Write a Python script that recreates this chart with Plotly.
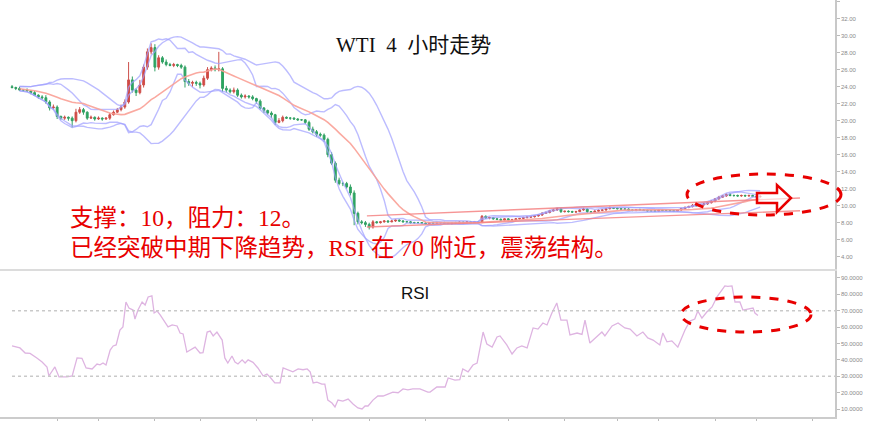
import plotly.graph_objects as go
import pandas as pd

# ---------------- data ----------------
closes = [
    23.9, 23.8, 23.6, 23.6, 23.5, 23.3, 23.0, 22.8, 22.7, 22.2,
    21.5, 21.6, 20.5, 20.3, 20.4, 20.3, 20.0, 21.0, 21.3, 21.0,
    20.3, 20.4, 20.2, 20.3, 20.2, 20.3, 20.7, 21.0, 21.3, 21.6,
    22.2, 24.8, 23.6, 23.3, 24.2, 26.3, 28.1, 28.6, 26.3, 27.4,
    26.9, 26.6, 26.5, 26.6, 26.5, 26.3, 24.6, 24.4, 24.5, 24.4,
    24.2, 25.0, 26.0, 26.2, 26.0, 26.1, 23.8, 23.6, 23.4, 23.6,
    23.0, 22.8, 22.9, 22.8, 22.6, 22.3, 21.5, 21.2, 20.9, 20.7,
    19.8, 20.0, 20.4, 20.3, 20.3, 20.2, 20.1, 20.1, 19.8, 19.0,
    18.7, 18.4, 18.3, 17.8, 16.0, 15.0, 13.0, 12.6, 12.6, 12.2,
    11.5, 9.1, 8.1, 8.0, 7.8, 7.5, 8.1, 8.0, 8.1, 8.2,
    8.1, 8.2, 8.3, 8.2, 8.1, 8.1, 8.0, 8.0, 8.0, 7.95,
    7.9, 8.0, 7.95, 8.0, 8.0, 7.95, 7.9, 8.0, 7.95, 8.05,
    8.0, 8.1, 8.0, 8.1, 8.05, 8.75, 8.55, 8.6, 8.45, 8.4,
    8.3, 8.45, 8.3, 8.35, 8.45, 8.5, 8.6, 8.65, 8.7, 8.8,
    8.9, 9.1, 9.2, 9.4, 9.5, 9.65, 9.3, 9.35, 9.3, 9.25,
    9.3, 9.5, 9.6, 9.3, 9.25, 9.35, 9.45, 9.5, 9.65, 9.75,
    9.7, 9.65, 9.6, 9.6, 9.5, 9.45, 9.55, 9.5, 9.45, 9.4,
    9.4, 9.35, 9.5, 9.45, 9.45, 9.4, 9.35, 9.5, 9.65, 9.8,
    9.9, 10.05, 10.0, 10.1, 10.2, 10.35, 10.55, 10.8, 11.0, 11.15,
    11.3, 11.2, 11.2, 11.15, 11.2, 11.15, 11.2, 11.1, 11.05, 11.1,
]
first_open = 24.0

upper_wick = [
    0.2, 0.1, 0.2, 0.1, 0.2, 0.1, 0.2, 0.1, 0.2, 0.3,
    0.2, 0.3, 0.2, 0.1, 0.2, 0.1, 0.2, 0.4, 0.3, 0.2,
    0.1, 0.2, 0.1, 0.2, 0.1, 0.1, 0.2, 0.2, 0.2, 0.3,
    0.3, 2.1, 0.4, 0.2, 0.6, 0.3, 0.4, 0.5, 0.4, 0.3,
    0.2, 0.3, 0.2, 0.2, 0.1, 0.2, 0.2, 0.3, 0.2, 0.2,
    0.2, 0.3, 0.3, 0.2, 0.3, 2.0, 0.2, 0.3, 0.2, 0.3,
    0.2, 0.2, 0.2, 0.1, 0.2, 0.1, 0.2, 0.1, 0.1, 0.2,
    0.1, 0.3, 0.2, 0.1, 0.1, 0.1, 0.1, 0.1, 0.1, 0.2,
    0.3, 0.2, 0.2, 0.2, 0.2, 0.3, 0.2, 0.3, 0.2, 0.2,
    0.3, 0.3, 0.2, 0.2, 0.2, 0.2, 0.2, 0.1, 0.1, 0.1,
    0.1, 0.1, 0.05, 0.1, 0.1, 0.05, 0.1, 0.1, 0.1, 0.05,
    0.1, 0.05, 0.1, 0.1, 0.05, 0.1, 0.1, 0.05, 0.1, 0.1,
    0.1, 0.05, 0.1, 0.1, 0.1, 0.15, 0.1, 0.1, 0.05, 0.1,
    0.1, 0.05, 0.1, 0.1, 0.1, 0.05, 0.1, 0.1, 0.1, 0.1,
    0.1, 0.15, 0.1, 0.1, 0.15, 0.1, 0.1, 0.05, 0.1, 0.1,
    0.1, 0.1, 0.15, 0.1, 0.05, 0.1, 0.1, 0.1, 0.1, 0.15,
    0.1, 0.1, 0.05, 0.1, 0.1, 0.1, 0.05, 0.1, 0.1, 0.1,
    0.05, 0.1, 0.1, 0.1, 0.1, 0.05, 0.1, 0.1, 0.1, 0.1,
    0.1, 0.15, 0.1, 0.1, 0.15, 0.1, 0.1, 0.1, 0.15, 0.1,
    0.15, 0.2, 0.1, 0.1, 0.1, 0.1, 0.1, 0.1, 0.1, 0.1,
]
lower_wick = [
    0.1, 0.2, 0.1, 0.2, 0.1, 0.2, 0.1, 0.2, 0.2, 0.2,
    0.3, 0.2, 0.3, 0.2, 0.2, 0.3, 0.8, 0.2, 0.2, 0.3,
    0.2, 0.1, 0.2, 0.1, 0.2, 0.1, 0.2, 0.1, 0.1, 0.2,
    0.2, 0.2, 0.3, 0.4, 0.2, 0.3, 0.3, 0.3, 0.5, 0.3,
    0.2, 0.2, 0.1, 0.2, 0.2, 0.2, 0.7, 0.3, 0.4, 0.3,
    0.4, 0.2, 0.2, 0.2, 0.2, 0.2, 0.4, 0.3, 0.2, 0.2,
    0.2, 0.2, 0.2, 0.2, 0.2, 0.3, 0.2, 0.3, 0.2, 0.4,
    0.3, 0.1, 0.2, 0.1, 0.2, 0.1, 0.1, 0.1, 0.2, 0.2,
    0.2, 0.3, 0.2, 0.3, 0.3, 0.2, 0.3, 0.2, 0.3, 0.2,
    0.3, 1.4, 0.3, 0.2, 0.3, 0.3, 0.2, 0.1, 0.1, 0.1,
    0.1, 0.05, 0.1, 0.1, 0.05, 0.1, 0.1, 0.1, 0.05, 0.1,
    0.1, 0.1, 0.05, 0.1, 0.1, 0.1, 0.05, 0.1, 0.1, 0.05,
    0.1, 0.1, 0.1, 0.05, 0.1, 0.1, 0.1, 0.15, 0.1, 0.1,
    0.05, 0.1, 0.1, 0.1, 0.05, 0.1, 0.1, 0.1, 0.05, 0.1,
    0.1, 0.1, 0.05, 0.1, 0.1, 0.1, 0.15, 0.1, 0.1, 0.1,
    0.1, 0.05, 0.1, 0.15, 0.1, 0.1, 0.05, 0.1, 0.1, 0.1,
    0.1, 0.1, 0.1, 0.05, 0.1, 0.1, 0.1, 0.1, 0.05, 0.1,
    0.1, 0.05, 0.1, 0.1, 0.1, 0.1, 0.1, 0.05, 0.1, 0.1,
    0.1, 0.1, 0.1, 0.1, 0.1, 0.1, 0.1, 0.15, 0.1, 0.1,
    0.1, 0.1, 0.15, 0.1, 0.1, 0.1, 0.1, 0.1, 0.1, 0.1,
]

rsi_pos = [
    0.0, 2.1, 3.5, 4.8, 6.6, 8.0, 9.3, 9.8, 11.4, 12.5, 14.6, 16.0, 17.3, 18.6,
    19.7, 21.3, 22.6, 23.4, 24.2, 25.0, 26.1, 26.9, 27.7, 28.7, 29.5, 30.3,
    31.1, 32.2, 32.7, 33.5, 34.6, 35.4, 36.2, 37.2, 37.8, 38.6, 39.4, 40.7,
    41.5, 42.6, 43.9, 44.7, 45.5, 46.5, 47.9, 48.7, 50.0, 50.8, 51.9, 52.7,
    53.5, 54.5, 55.9, 56.6, 57.4, 58.5, 59.3, 60.1, 61.2, 62.0, 62.8, 64.1,
    65.4, 66.8, 67.8, 68.6, 69.9, 71.3, 72.1, 73.4, 74.7, 76.1, 77.4, 78.5,
    79.3, 80.1, 81.1, 82.4, 83.2, 84.0, 85.1, 85.9, 86.7, 88.0, 89.4, 90.7,
    92.0, 93.1, 93.9, 94.7, 96.0, 97.3, 98.7, 100.0, 101.3, 102.7, 104.0,
    105.3, 106.6, 108.5, 110.6, 111.2, 113.0, 115.2, 116.0, 117.8, 119.1,
    119.9, 121.3, 122.6, 123.7, 125.3, 126.3, 127.7, 129.0, 129.8, 131.6,
    133.0, 134.3, 135.6, 137.0, 138.6, 139.9, 141.2, 142.3, 143.6, 144.9,
    146.0, 147.6, 148.4, 150.3, 151.6, 152.4, 153.7, 155.6, 156.9, 157.7,
    159.6, 161.2, 163.0, 164.4, 166.2, 167.8, 169.1, 170.5, 172.3, 173.1,
    174.2, 175.5, 177.1, 179.0, 180.3, 181.6, 182.4, 183.5, 184.8, 186.2,
    187.5, 188.8, 189.6, 190.4, 191.5, 192.3, 193.6, 194.4, 195.7, 197.1,
    197.6, 198.4,
]
rsi_val = [
    48.5, 47.3, 44.2, 44.0, 41.2, 38.7, 35.7, 30.2, 35.7, 29.6, 29.6, 30.2, 41.2, 41.0,
    35.1, 34.5, 37.5, 37.0, 38.1, 36.9, 46.0, 48.5, 49.1, 58.2, 60.1, 75.3,
    71.6, 70.4, 64.9, 70.4, 75.3, 73.5, 78.4, 79.0, 68.6, 69.8, 67.4, 63.1,
    60.1, 61.3, 60.7, 56.4, 55.8, 44.8, 46.6, 47.8, 44.2, 44.4, 57.0, 57.6,
    54.6, 57.0, 52.1, 41.2, 38.1, 42.4, 38.7, 37.5, 40.0, 38.1, 40.0, 38.5,
    35.1, 30.2, 31.4, 29.6, 26.0, 26.0, 35.1, 33.9, 32.7, 34.5, 34.0, 34.5,
    32.7, 26.0, 26.5, 25.3, 25.3, 15.5, 13.7, 11.3, 15.5, 14.9, 16.1, 13.1,
    10.7, 10.1, 11.9, 11.9, 15.5, 18.0, 18.0, 19.2, 20.4, 20.0, 22.3,
    21.8, 22.3, 22.3, 20.4, 20.4, 23.5, 23.5, 29.0, 27.7, 28.0,
    34.5, 32.7, 36.9, 38.1, 57.0, 49.7, 47.8, 54.0, 54.6, 49.1,
    43.6, 47.3, 48.5, 47.3, 59.5, 58.8, 62.5, 61.3, 68.6, 74.7,
    64.3, 64.3, 55.2, 56.4, 55.5, 64.3, 50.3, 54.0, 57.0, 54.6,
    60.7, 62.5, 59.5, 58.8, 54.6, 57.0, 53.4, 52.1, 49.1, 56.4,
    51.0, 51.6, 47.8, 58.2, 63.7, 64.9, 69.8, 65.5, 69.2, 72.3,
    78.4, 82.6, 85.1, 84.8, 85.1, 75.3, 75.3, 70.4, 71.0, 71.6,
    68.6, 67.1,
]

price_ticks = [4, 6, 8, 10, 12, 14, 16, 18, 20, 22, 24, 26, 28, 30, 32, 34]
rsi_ticks = [10, 20, 30, 40, 50, 60, 70, 80, 90]
rsi_levels = [70, 30]
date_tick_pos = [12, 23, 38, 50, 65, 80, 95, 110, 132, 147, 161, 172, 187, 198, 213]

channel_x = [94.4, 209.6]
channel_upper = [8.8, 10.9]
channel_lower = [7.5, 9.4]

title_text = "WTI\u00a0\u00a04\u00a0\u00a0小时走势"
note_line1 = "支撑：10，阻力：12。"
note_line2 = "已经突破中期下降趋势，RSI 在 70 附近，震荡结构。"

# ---------------- derived series ----------------
idx = list(range(len(closes)))
opens = [first_open] + closes[:-1]
highs = [max(o, c) + w for o, c, w in zip(opens, closes, upper_wick)]
lows = [min(o, c) - w for o, c, w in zip(opens, closes, lower_wick)]

s = pd.Series(closes)
mid20 = s.rolling(20, min_periods=3).mean()
sd20 = s.rolling(20, min_periods=3).std(ddof=0)
mid10 = s.rolling(10, min_periods=3).mean()
sd10 = s.rolling(10, min_periods=3).std(ddof=0)

# ---------------- geometry ----------------
W, H = 869, 421
AX_RIGHT = 835 / W
X_RANGE = [-3.2, 218.9]
TOP_DOMAIN = [1 - 269 / H, 1]
BOT_DOMAIN = [1 - 417 / H, 1 - 271 / H]

def px(x):
    return x / W

def py(y):
    return 1 - y / H

BLUE = "rgba(160,160,255,0.7)"
SALMON = "rgba(250,160,150,0.9)"
RED = "rgb(232,0,0)"

fig = go.Figure()

for mid, sd in ((mid20, sd20), (mid10, sd10)):
    for k in (2, -2):
        fig.add_trace(go.Scatter(x=idx, y=mid + k * sd, mode="lines",
                                 line=dict(color=BLUE, width=1.4),
                                 xaxis="x", yaxis="y", hoverinfo="skip"))

fig.add_trace(go.Scatter(x=idx, y=mid20, mode="lines",
                         line=dict(color=SALMON, width=1.6),
                         xaxis="x", yaxis="y", hoverinfo="skip"))

for ch in (channel_upper, channel_lower):
    fig.add_trace(go.Scatter(x=channel_x, y=ch, mode="lines",
                             line=dict(color="rgba(245,130,130,0.85)", width=1.4),
                             xaxis="x", yaxis="y", hoverinfo="skip"))

fig.add_trace(go.Candlestick(
    x=idx, open=opens, high=highs, low=lows, close=closes,
    increasing=dict(line=dict(color="rgb(205,80,75)", width=1), fillcolor="rgb(215,70,65)"),
    decreasing=dict(line=dict(color="rgb(50,160,100)", width=1), fillcolor="rgb(40,170,95)"),
    xaxis="x", yaxis="y", whiskerwidth=0,
))

fig.add_trace(go.Scatter(x=rsi_pos, y=rsi_val, mode="lines",
                         line=dict(color="rgb(222,180,225)", width=1.3),
                         xaxis="x2", yaxis="y2", hoverinfo="skip"))

shapes = []
for lvl in rsi_levels:
    shapes.append(dict(type="line", xref="x2", yref="y2", x0=0, x1=X_RANGE[1],
                       y0=lvl, y1=lvl, line=dict(color="#c9c9c9", width=1.5, dash="dot")))

# annotation ellipses and arrow (decorations in figure pixels)
shapes.append(dict(type="circle", xref="paper", yref="paper",
                   x0=px(687), x1=px(841), y0=py(215), y1=py(174),
                   line=dict(color=RED, width=3, dash="dash")))
shapes.append(dict(type="circle", xref="paper", yref="paper",
                   x0=px(681), x1=px(811), y0=py(332), y1=py(297),
                   line=dict(color=RED, width=3, dash="dash")))
arrow_pts = [(757, 193), (777, 193), (777, 185), (791, 198), (777, 212), (777, 203), (757, 203)]
path = "M " + " L ".join(f"{px(x):.5f},{py(y):.5f}" for x, y in arrow_pts) + " Z"
shapes.append(dict(type="path", xref="paper", yref="paper", path=path,
                   line=dict(color=RED, width=2.5), fillcolor="rgba(255,255,255,0.6)"))

annotations = [
    dict(text=title_text, x=px(413), y=py(45), xref="paper", yref="paper",
         showarrow=False, xanchor="center", yanchor="middle",
         font=dict(family="Liberation Serif, Noto Sans CJK SC", size=21, color="#111")),
    dict(text="RSI", x=px(415), y=py(293), xref="paper", yref="paper",
         showarrow=False, xanchor="center", yanchor="middle",
         font=dict(family="Liberation Sans, Arial", size=17, color="#111")),
    dict(text=note_line1, x=px(68), y=py(218), xref="paper", yref="paper",
         showarrow=False, xanchor="left", yanchor="middle",
         font=dict(family="Liberation Serif, Noto Sans CJK SC", size=23.5, color=RED)),
    dict(text=note_line2, x=px(68), y=py(248), xref="paper", yref="paper",
         showarrow=False, xanchor="left", yanchor="middle",
         font=dict(family="Liberation Serif, Noto Sans CJK SC", size=23.5, color=RED)),
]

axis_font = dict(family="Liberation Sans, Arial", size=6, color="#8a8a8a")

fig.update_layout(
    width=W, height=H,
    margin=dict(l=0, r=0, t=0, b=0),
    paper_bgcolor="white", plot_bgcolor="white",
    showlegend=False,
    shapes=shapes, annotations=annotations,
    xaxis=dict(domain=[0, AX_RIGHT], range=X_RANGE, anchor="y",
               showgrid=False, zeroline=False, showticklabels=False, ticks="",
               showline=True, linecolor="#dcdcdc", linewidth=2,
               rangeslider=dict(visible=False)),
    yaxis=dict(domain=TOP_DOMAIN, range=[2.55, 34.2], anchor="x", side="right",
               tickvals=price_ticks, tickformat=".2f", tickfont=axis_font,
               ticks="outside", ticklen=3, tickcolor="#bbbbbb",
               showline=True, linecolor="#c8c8c8", linewidth=1.5,
               showgrid=False, zeroline=False),
    xaxis2=dict(domain=[0, AX_RIGHT], range=X_RANGE, anchor="y2",
                showgrid=False, zeroline=False, showticklabels=False,
                tickvals=date_tick_pos, ticks="outside", ticklen=5, tickcolor="#bbbbbb",
                showline=True, linecolor="#cccccc", linewidth=2),
    yaxis2=dict(domain=BOT_DOMAIN, range=[5.2, 94.2], anchor="x2", side="right",
                tickvals=rsi_ticks, tickformat=".4f", tickfont=axis_font,
                ticks="outside", ticklen=3, tickcolor="#bbbbbb",
                showline=True, linecolor="#c8c8c8", linewidth=1.5,
                showgrid=False, zeroline=False),
)

fig.write_html("out.html", config={"displayModeBar": False},
               post_script="document.body.style.margin='0';")
